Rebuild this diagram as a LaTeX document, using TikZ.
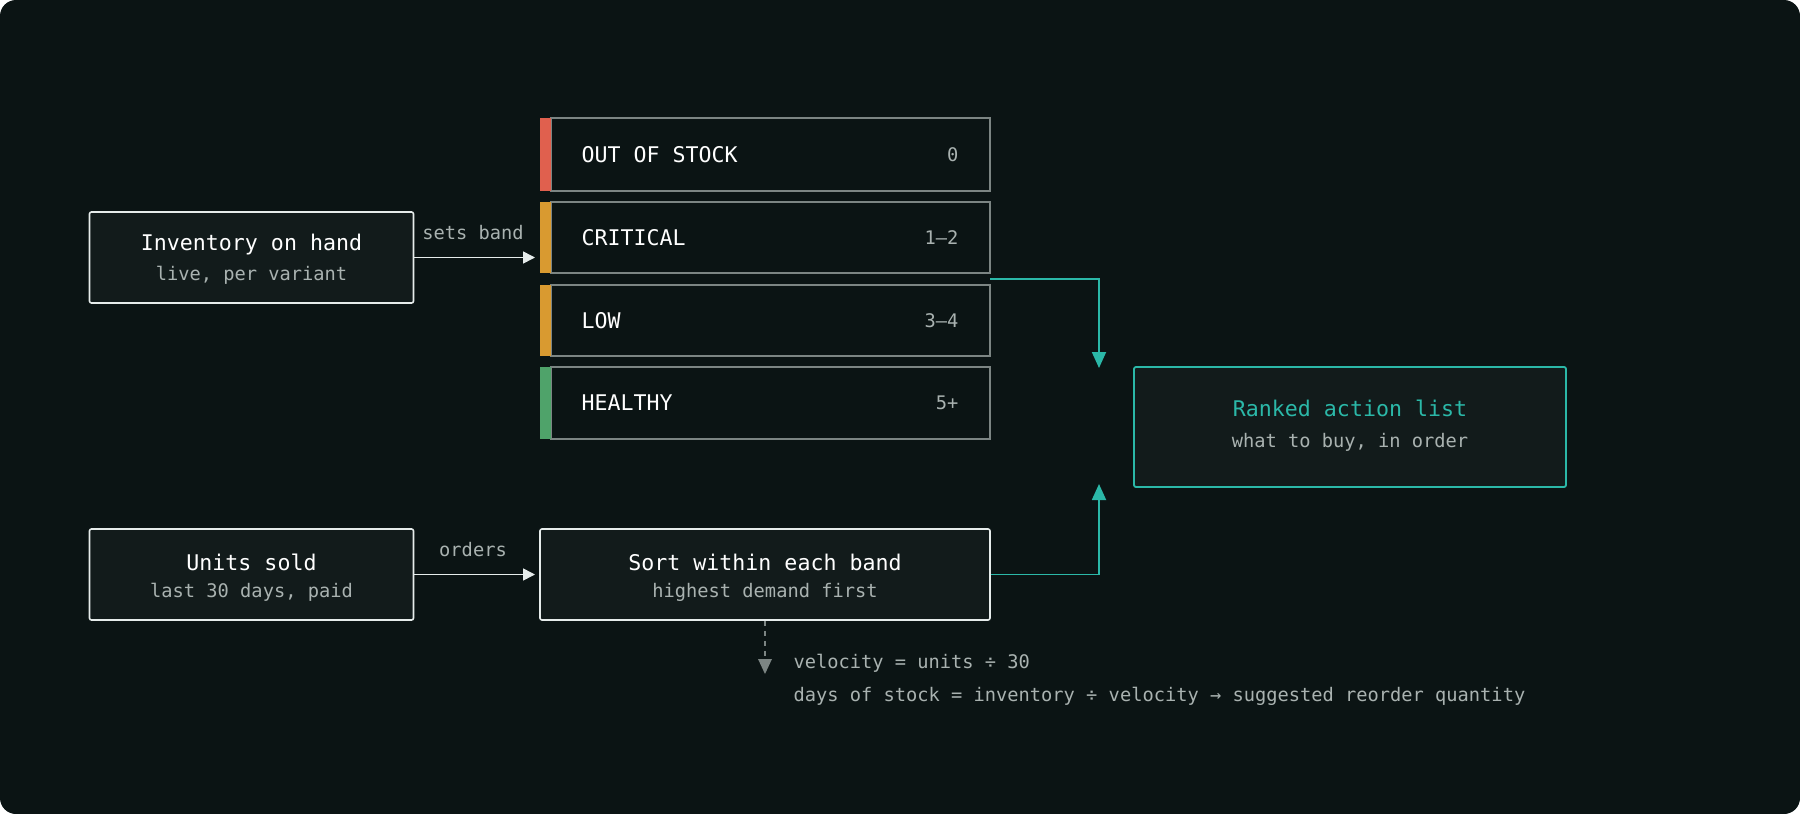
\documentclass[tikz,border=0pt]{standalone}
\usepackage{fontspec}
\setmonofont{DejaVu Sans Mono}
\usetikzlibrary{arrows.meta}
\definecolor{bg}{HTML}{0B1414}
\definecolor{boxfill}{HTML}{121B1B}
\definecolor{wline}{HTML}{E6ECEB}
\definecolor{gline}{HTML}{7C8583}
\definecolor{sub}{HTML}{A9B2B0}
\definecolor{tred}{HTML}{E0604E}
\definecolor{torange}{HTML}{D99A30}
\definecolor{tgreen}{HTML}{4FA36A}
\definecolor{teal}{HTML}{2BB8A8}
\begin{document}
\begin{tikzpicture}[x=1pt,y=-1pt,font=\ttfamily,
  box/.style={draw=wline,fill=boxfill,line width=1.6pt,rounded corners=2pt},
  band/.style={draw=gline,fill=bg,line width=1.4pt},
  ttl/.style={text=white,font=\ttfamily\fontsize{21.6}{24}\selectfont},
  st/.style={text=sub,font=\ttfamily\fontsize{18.7}{22}\selectfont},
  arr/.style={draw=wline,line width=1.6pt,-{Triangle[length=12pt,width=12pt]}},
  tarr/.style={draw=teal,line width=1.8pt,-{Triangle[length=16pt,width=14pt]}}]
\useasboundingbox (0,0) rectangle (1800,814);
\fill[bg,rounded corners=16pt] (0,0) rectangle (1800,814);
% left boxes
\node[box,minimum width=324pt,minimum height=91pt] (inv) at (251.5,257.5) {};
\node[ttl] at (251.5,245) {Inventory on hand};
\node[st] at (251.5,275) {live, per variant};
\node[box,minimum width=324pt,minimum height=91pt] (units) at (251.5,574.5) {};
\node[ttl] at (251.5,562) {Units sold};
\node[st] at (251.5,592) {last 30 days, paid};
% bands
\foreach \y/\h/\c/\t/\n/\nm in {118/191/tred/OUT OF STOCK/0/oos,202/273/torange/CRITICAL/1–2/crit,285/356/torange/LOW/3–4/low,367/439/tgreen/HEALTHY/5+/healthy}{
  \draw[band] (551,\y) rectangle (990,\h);
  \coordinate (\nm) at (551,{(\y+\h)/2});
  \fill[\c] (540,\y) rectangle (551,\h);
  \node[ttl,anchor=west] at (578,{(\y+\h)/2}) {\t};
  \node[st,anchor=east] at (962,{(\y+\h)/2}) {\n};
}
% sort box
\node[box,minimum width=450pt,minimum height=91pt] (sort) at (765,574.5) {};
\node[ttl] at (765,562) {Sort within each band};
\node[st] at (765,592) {highest demand first};
% ranked
\node[draw=teal,fill=boxfill,line width=1.8pt,rounded corners=2pt,minimum width=432pt,minimum height=120pt] (rank) at (1350,427) {};
\node[text=teal,font=\ttfamily\fontsize{21.6}{24}\selectfont] at (1350,408) {Ranked action list};
\node[st] at (1350,442) {what to buy, in order};
% arrows
\draw[arr] (inv.east) -- (535,257.5);
\node[st] at (473,233) {sets band};
\draw[arr] (units.east) -- (535,574.5);
\node[st] at (473,550) {orders};
\draw[tarr] (990,279) -- (1099,279) -- (1099,368);
\draw[tarr] (sort.east) -- (1099,574.5) -- (1099,484);
\draw[gline,line width=1.5pt,dash pattern=on 5pt off 5pt] (sort.south) -- (765,660);
\fill[gline] (758,659) -- (772,659) -- (765,674) -- cycle;
\node[st,anchor=west] at (790,663) {velocity = units ÷ 30};
\node[st,anchor=west] at (790,696) {days of stock = inventory ÷ velocity → suggested reorder quantity};
\end{tikzpicture}
\end{document}
